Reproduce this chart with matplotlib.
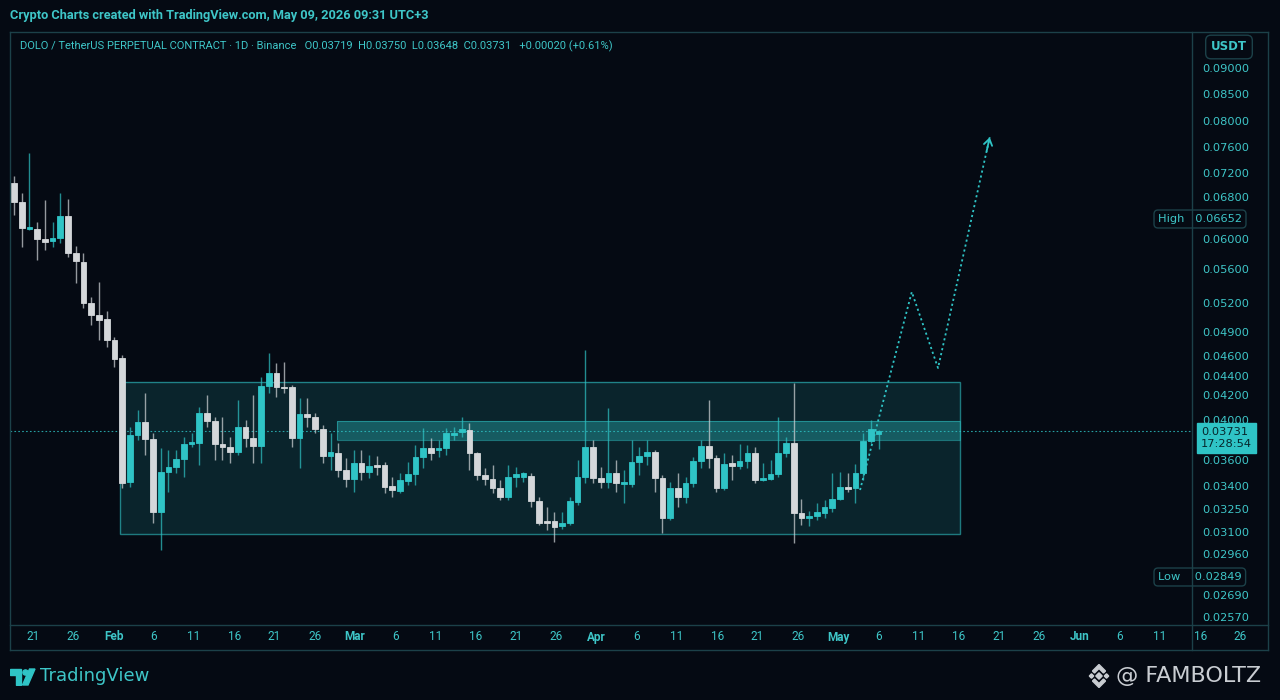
import matplotlib
matplotlib.use('Agg')
import matplotlib.pyplot as plt
import numpy as np
from matplotlib.patches import Rectangle, Polygon, Circle
from matplotlib.lines import Line2D
from matplotlib.ticker import FuncFormatter, NullLocator

BG = '#050a13'
TEAL = '#2fc4c6'
TEAL_TXT = '#3ec6c8'
DOWN = '#d4d7da'
FRAME = '#1c4149'
NARROW = ['Roboto', 'DejaVu Sans']

# daily candles, DOLO/USDT perp
opens = [
    0.07033, 0.06766, 0.06326, 0.06326, 0.06000, 0.05973, 0.06033, 0.06672, 0.05813, 0.05693,
    0.05200, 0.05076, 0.05034, 0.04800, 0.04580, 0.03431, 0.03713, 0.03951, 0.03695, 0.03230,
    0.03508, 0.03546, 0.03605, 0.03672, 0.03677, 0.04056, 0.03976, 0.03672, 0.03659, 0.03636,
    0.03829, 0.03700, 0.03663, 0.04295, 0.04430, 0.04284, 0.04284, 0.03700, 0.04048, 0.04024,
    0.03780, 0.03618, 0.03632, 0.03523, 0.03454, 0.03577, 0.03508, 0.03562, 0.03562, 0.03400,
    0.03367, 0.03438, 0.03492, 0.03614, 0.03654, 0.03645, 0.03654, 0.03713, 0.03726, 0.03755,
    0.03632, 0.03485, 0.03454, 0.03387, 0.03328, 0.03469, 0.03469, 0.03477, 0.03302, 0.03172,
    0.03172, 0.03139, 0.03159, 0.03296, 0.03469, 0.03659, 0.03462, 0.03431, 0.03500, 0.03415,
    0.03415, 0.03585, 0.03618, 0.03636, 0.03462, 0.03191, 0.03387, 0.03328, 0.03423, 0.03592,
    0.03663, 0.03609, 0.03387, 0.03577, 0.03554, 0.03592, 0.03632, 0.03446, 0.03454, 0.03492,
    0.03632, 0.03677, 0.03224, 0.03191, 0.03204, 0.03224, 0.03257, 0.03315, 0.03393, 0.03387,
    0.03500, 0.03686, 0.03719]
highs = [
    0.07150, 0.06867, 0.07508, 0.06554, 0.06780, 0.06554, 0.06867, 0.06787, 0.05907, 0.05813,
    0.05271, 0.05447, 0.05117, 0.04838, 0.04613, 0.03829, 0.04080, 0.04221, 0.03722, 0.03654,
    0.03645, 0.03645, 0.03704, 0.03722, 0.04104, 0.04200, 0.04024, 0.04024, 0.03704, 0.04160,
    0.04000, 0.04200, 0.04390, 0.04638, 0.04530, 0.04540, 0.04305, 0.04176, 0.04176, 0.04056,
    0.03878, 0.03722, 0.03677, 0.03609, 0.03645, 0.03645, 0.03623, 0.03618, 0.03585, 0.03469,
    0.03500, 0.03585, 0.03668, 0.03804, 0.03700, 0.03690, 0.03804, 0.03829, 0.04024, 0.03927,
    0.03636, 0.03538, 0.03562, 0.03446, 0.03562, 0.03546, 0.03508, 0.03500, 0.03328, 0.03263,
    0.03230, 0.03230, 0.03328, 0.03600, 0.04675, 0.03690, 0.03546, 0.04096, 0.03600, 0.03523,
    0.03690, 0.03659, 0.03690, 0.03645, 0.03485, 0.03431, 0.03500, 0.03469, 0.03614, 0.03690,
    0.04160, 0.03623, 0.03632, 0.03623, 0.03672, 0.03668, 0.03659, 0.03577, 0.03600, 0.04024,
    0.03704, 0.04326, 0.03315, 0.03237, 0.03289, 0.03309, 0.03500, 0.03508, 0.03500, 0.03569,
    0.03722, 0.04000, 0.03750]
lows = [
    0.06679, 0.05893, 0.06293, 0.05720, 0.05853, 0.05893, 0.05947, 0.05760, 0.05435, 0.05148,
    0.04972, 0.04800, 0.04713, 0.04490, 0.03387, 0.03393, 0.03690, 0.03623, 0.03159, 0.02986,
    0.03361, 0.03500, 0.03469, 0.03659, 0.03562, 0.03829, 0.03600, 0.03600, 0.03577, 0.03623,
    0.03659, 0.03577, 0.03577, 0.04221, 0.04184, 0.04221, 0.03659, 0.03538, 0.03829, 0.03722,
    0.03577, 0.03523, 0.03469, 0.03393, 0.03361, 0.03446, 0.03462, 0.03485, 0.03354, 0.03328,
    0.03354, 0.03408, 0.03408, 0.03538, 0.03600, 0.03614, 0.03623, 0.03690, 0.03704, 0.03523,
    0.03446, 0.03408, 0.03354, 0.03309, 0.03309, 0.03393, 0.03431, 0.03263, 0.03146, 0.03113,
    0.03036, 0.03120, 0.03146, 0.03276, 0.03423, 0.03423, 0.03387, 0.03387, 0.03361, 0.03289,
    0.03393, 0.03485, 0.03562, 0.03361, 0.03094, 0.03178, 0.03263, 0.03289, 0.03393, 0.03538,
    0.03538, 0.03361, 0.03374, 0.03446, 0.03531, 0.03538, 0.03423, 0.03438, 0.03446, 0.03469,
    0.03614, 0.03030, 0.03146, 0.03139, 0.03178, 0.03191, 0.03230, 0.03309, 0.03361, 0.03289,
    0.03446, 0.03677, 0.03648]
closes = [
    0.06766, 0.06359, 0.06391, 0.06000, 0.05960, 0.06033, 0.06672, 0.05813, 0.05707, 0.05200,
    0.05076, 0.05024, 0.04800, 0.04570, 0.03423, 0.03713, 0.03951, 0.03695, 0.03230, 0.03508,
    0.03546, 0.03605, 0.03672, 0.03681, 0.04056, 0.03976, 0.03672, 0.03659, 0.03636, 0.03829,
    0.03700, 0.03663, 0.04295, 0.04430, 0.04284, 0.04274, 0.03700, 0.04048, 0.04024, 0.03780,
    0.03618, 0.03636, 0.03523, 0.03454, 0.03577, 0.03508, 0.03554, 0.03546, 0.03393, 0.03374,
    0.03446, 0.03492, 0.03614, 0.03654, 0.03632, 0.03654, 0.03722, 0.03722, 0.03780, 0.03632,
    0.03485, 0.03454, 0.03387, 0.03328, 0.03469, 0.03492, 0.03500, 0.03302, 0.03159, 0.03159,
    0.03133, 0.03159, 0.03302, 0.03469, 0.03659, 0.03462, 0.03431, 0.03500, 0.03423, 0.03431,
    0.03585, 0.03618, 0.03636, 0.03462, 0.03191, 0.03387, 0.03328, 0.03423, 0.03592, 0.03663,
    0.03609, 0.03387, 0.03569, 0.03554, 0.03592, 0.03632, 0.03446, 0.03462, 0.03492, 0.03632,
    0.03677, 0.03224, 0.03191, 0.03204, 0.03230, 0.03263, 0.03315, 0.03393, 0.03380, 0.03500,
    0.03686, 0.03780, 0.03731]

last_price = 0.03731
range_high = 0.06652
range_low = 0.02849

# drawn zones (x in bar index)
zone_x = [13.7, 122.5]
zone_prices = [0.03087, 0.04337]
band_x = [41.8, 122.5]
band_prices = [0.03690, 0.03976]
proj_x = [109.6, 116.3, 119.7, 126.4]
proj_prices = [0.03374, 0.05330, 0.04480, 0.07750]

price_ticks = [0.09, 0.085, 0.08, 0.076, 0.072, 0.068, 0.06, 0.056, 0.052, 0.049, 0.046,
               0.044, 0.042, 0.04, 0.036, 0.034, 0.0325, 0.031, 0.0296, 0.0269, 0.0257]
x_labels = ['21', '26', 'Feb', '6', '11', '16', '21', '26', 'Mar', '6', '11', '16', '21', '26',
            'Apr', '6', '11', '16', '21', '26', 'May', '6', '11', '16', '21', '26', 'Jun',
            '6', '11', '16', '26']
months = {'Feb', 'Mar', 'Apr', 'May', 'Jun'}

# tradingview's price scale here is uneven, so map it piecewise
scale_prices = [0.0250, 0.0257, 0.0269, 0.02849, 0.0296, 0.0310, 0.0325, 0.0340, 0.0360,
                0.03731, 0.0400, 0.0420, 0.0440, 0.0460, 0.0490, 0.0520, 0.0560, 0.0600,
                0.06652, 0.0680, 0.0720, 0.0760, 0.0800, 0.0850, 0.0900, 0.1000]
scale_rows = [630, 617, 595, 577, 554, 532, 509, 486, 460, 431, 420, 395, 376, 356, 332,
              303, 269, 239, 219, 197, 173, 147, 121, 94, 68, 16]
sp = np.array(scale_prices)
sr = -np.array(scale_rows, dtype=float)


def fwd(v):
    return np.interp(v, sp, sr)


def inv(p):
    return np.interp(p, sr, sp)


W, H = 1280, 700


def fx(px):
    return px / W


def fy(py):
    return 1 - py / H


fig = plt.figure(figsize=(12.8, 7.0), dpi=100, facecolor=BG)
ax = fig.add_axes([fx(10), fy(625), (1192 - 10) / W, (625 - 32) / H])
ax.set_facecolor(BG)
ax.set_yscale('function', functions=(fwd, inv))
ax.set_ylim(inv(-625), inv(-32))
ax.set_xlim(-0.52, 152.6)
for s in ax.spines.values():
    s.set_visible(False)

# zones
ax.add_patch(Rectangle((zone_x[0], zone_prices[0]), zone_x[1] - zone_x[0],
                       zone_prices[1] - zone_prices[0], facecolor=TEAL, alpha=0.14,
                       edgecolor='none', zorder=1))
ax.add_patch(Rectangle((zone_x[0], zone_prices[0]), zone_x[1] - zone_x[0],
                       zone_prices[1] - zone_prices[0], fill=False, edgecolor=TEAL,
                       alpha=0.6, lw=1, zorder=1.2))
ax.add_patch(Rectangle((band_x[0], band_prices[0]), band_x[1] - band_x[0],
                       band_prices[1] - band_prices[0], facecolor=TEAL, alpha=0.35,
                       edgecolor='none', zorder=1.1))
ax.add_patch(Rectangle((band_x[0], band_prices[0]), band_x[1] - band_x[0],
                       band_prices[1] - band_prices[0], fill=False, edgecolor=TEAL,
                       alpha=0.5, lw=0.8, zorder=1.2))

ax.axhline(last_price, color=TEAL, lw=0.8, ls=(0, (1.5, 2)), alpha=0.8, zorder=2)

# candles
o, h, l, c = (np.array(a) for a in (opens, highs, lows, closes))
x = np.arange(len(o))
cols = np.where(c >= o, TEAL, DOWN)
ax.vlines(x, l, h, colors=cols, lw=1, alpha=0.7, zorder=3)
ax.bar(x, np.abs(c - o), bottom=np.minimum(o, c), width=0.74, color=cols,
       edgecolor=cols, lw=0.6, zorder=4)

# projection, arrow head follows the last leg on screen
ax.plot(proj_x, proj_prices, color=TEAL, lw=1.3, ls=(0, (1.2, 1.6)), zorder=5)
t = 0.94
tail_x = proj_x[-2] + t * (proj_x[-1] - proj_x[-2])
tail_y = inv(fwd(proj_prices[-2]) + t * (fwd(proj_prices[-1]) - fwd(proj_prices[-2])))
ax.annotate('', xy=(proj_x[-1], proj_prices[-1]), xytext=(tail_x, tail_y),
            arrowprops=dict(arrowstyle='->,head_length=0.45,head_width=0.3',
                            color=TEAL, lw=1.3, shrinkA=0, shrinkB=0), zorder=5)

# price scale
ax.set_yticks(price_ticks)
ax.yaxis.set_minor_locator(NullLocator())
ax.yaxis.set_major_formatter(FuncFormatter(lambda v, _: f'{v:.5f}'))
ax.tick_params(axis='y', left=False, right=False, labelleft=False, labelright=True,
               length=0, pad=7.5, labelcolor=TEAL_TXT, labelsize=8.2)
ax.set_xticks([])

ax.annotate(f'{last_price:.5f}\n17:28:54', xy=(1, last_price),
            xycoords=('axes fraction', 'data'), xytext=(9, -7), textcoords='offset pixels',
            ha='left', va='center', fontsize=8.2, color='#06262b', linespacing=1.15,
            bbox=dict(boxstyle='square,pad=0.35', fc=TEAL, ec=TEAL), zorder=10,
            annotation_clip=False)
ax.annotate(f'High   {range_high:.5f}', xy=(1, range_high),
            xycoords=('axes fraction', 'data'), xytext=(-34, 0), textcoords='offset pixels',
            ha='left', va='center', fontsize=8.2, color=TEAL_TXT,
            bbox=dict(boxstyle='round,pad=0.35', fc=BG, ec=FRAME, lw=1),
            zorder=10, annotation_clip=False)
ax.annotate(f'Low    {range_low:.5f}', xy=(1, range_low),
            xycoords=('axes fraction', 'data'), xytext=(-34, 0), textcoords='offset pixels',
            ha='left', va='center', fontsize=8.2, color=TEAL_TXT,
            bbox=dict(boxstyle='round,pad=0.35', fc=BG, ec=FRAME, lw=1),
            zorder=10, annotation_clip=False)

# time scale
label_start, label_step = 2.46, 5.214
for k, lab in enumerate(x_labels):
    ax.annotate(lab, xy=(label_start + label_step * k, 0),
                xycoords=('data', 'axes fraction'), xytext=(0, -12),
                textcoords='offset pixels', ha='center', va='center', fontsize=8.5,
                family=NARROW, color=TEAL_TXT,
                fontweight='bold' if lab in months else 'normal',
                annotation_clip=False)

# panel frame
for x0, y0, x1, y1 in [(10, 32, 1268, 32), (10, 650, 1268, 650), (10, 32, 10, 650),
                       (1268, 32, 1268, 650), (1192, 32, 1192, 650), (10, 625, 1268, 625)]:
    fig.add_artist(Line2D([fx(x0), fx(x1)], [fy(y0), fy(y1)], color=FRAME, lw=1))

fig.text(fx(1229), fy(47), 'USDT', ha='center', va='center', fontsize=8.5,
         fontweight='bold', color=TEAL_TXT,
         bbox=dict(boxstyle='round,pad=0.45', fc=BG, ec=FRAME, lw=1))

fig.text(fx(10), fy(16), 'Crypto Charts created with TradingView.com, May 09, 2026 09:31 UTC+3',
         ha='left', va='center', fontsize=9.2, fontweight='bold', color=TEAL_TXT,
         family=NARROW)
fig.text(fx(20), fy(46),
         'DOLO / TetherUS PERPETUAL CONTRACT \u00b7 1D \u00b7 Binance   O0.03719  H0.03750  '
         'L0.03648  C0.03731   +0.00020 (+0.61%)',
         ha='left', va='center', fontsize=8.0, color=TEAL_TXT, family=NARROW)

# TradingView logo
lg = fig.add_axes([fx(10), fy(686), fx(26), 18 / H])
lg.set_xlim(0, 26)
lg.set_ylim(0, 18)
lg.axis('off')
lg.add_patch(Polygon([(0, 17), (11, 17), (11, 1), (6, 1), (6, 11), (0, 11)], color=TEAL))
lg.add_patch(Circle((15.5, 13.5), 2.6, color=TEAL))
lg.add_patch(Polygon([(12.5, 1), (18, 1), (25, 17), (19.5, 17)], color=TEAL))
fig.text(fx(40), fy(676), 'TradingView', ha='left', va='center', fontsize=13, color=TEAL_TXT)

# binance-style mark + handle
bl = fig.add_axes([fx(1087), fy(689), fx(24), 26 / H])
bl.set_xlim(-12, 12)
bl.set_ylim(-13, 13)
bl.axis('off')


def diamond(cx, cy, r):
    return Polygon([(cx, cy + r), (cx + r, cy), (cx, cy - r), (cx - r, cy)], color='#c9cdd2')


for cx, cy, r in [(0, 0, 3.2), (-7.5, 0, 2.2), (7.5, 0, 2.2)]:
    bl.add_patch(diamond(cx, cy, r))
bl.add_patch(Polygon([(0, 11.5), (6.5, 5), (4.5, 3), (0, 7.5), (-4.5, 3), (-6.5, 5)],
                     color='#c9cdd2'))
bl.add_patch(Polygon([(0, -11.5), (6.5, -5), (4.5, -3), (0, -7.5), (-4.5, -3), (-6.5, -5)],
                     color='#c9cdd2'))
fig.text(fx(1116), fy(676), '@ FAMBOLTZ', ha='left', va='center', fontsize=16,
         color='#c9cdd2')

fig.savefig('out.png', dpi=100, facecolor=BG)
